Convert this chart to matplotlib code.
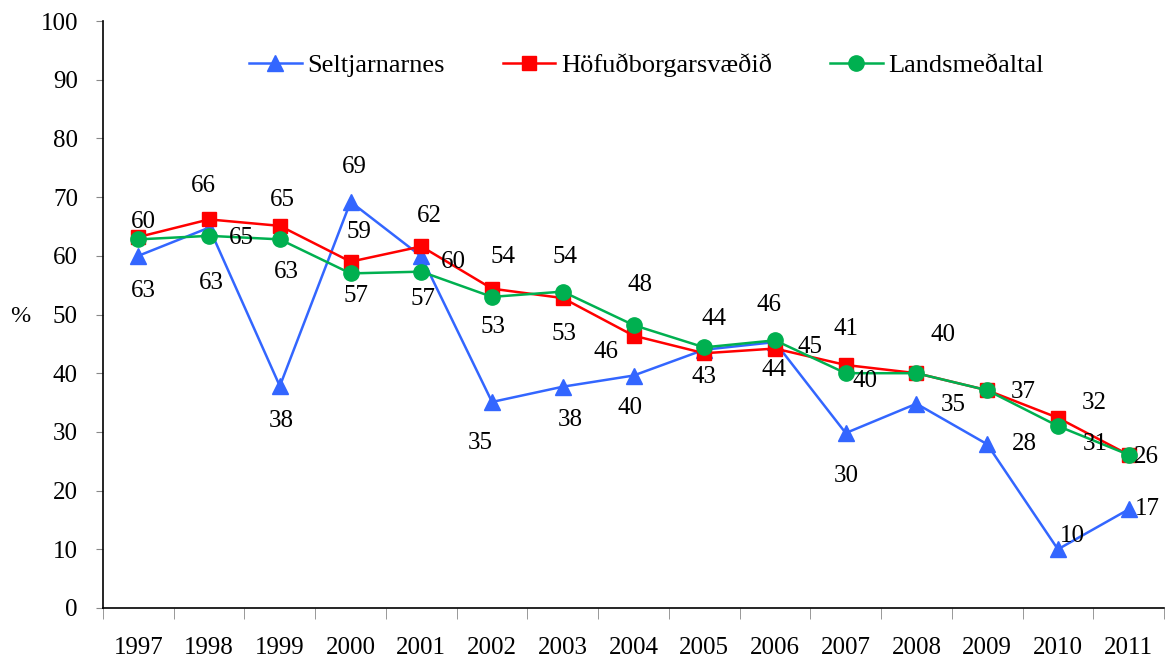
import matplotlib
matplotlib.use("Agg")
import matplotlib.pyplot as plt
import numpy as np

plt.rcParams['font.family'] = ['Liberation Serif', 'DejaVu Serif']

years = ['1997', '1998', '1999', '2000', '2001', '2002', '2003', '2004',
         '2005', '2006', '2007', '2008', '2009', '2010', '2011']

seltjarnarnes = [60.0, 64.8, 37.8, 69.2, 59.9, 35.1, 37.7, 39.6,
                 44.0, 45.3, 29.8, 34.8, 27.9, 10.0, 16.8]
hofudborg = [63.2, 66.2, 65.1, 59.0, 61.6, 54.4, 52.8, 46.4,
             43.4, 44.2, 41.4, 40.0, 37.1, 32.4, 26.1]
landsmedaltal = [62.8, 63.4, 62.8, 57.0, 57.3, 53.0, 53.9, 48.2,
                 44.4, 45.6, 40.0, 40.0, 37.1, 31.0, 26.1]

names = ['Seltjarnarnes', 'Höfuðborgarsvæðið', 'Landsmeðaltal']

# label offsets in pixels (dx, dy up); None = no label shown
off_blue = [(5, 34), (32, -10), (1, -35), (4, 35), (32, -6), (-12, -41),
            (7, -33), (-3, -32), None, (35, -5), (1, -43), (37, -1),
            (37, 0), (14, 13), (19, 0)]
off_red = [None, (-6, 33), (3, 26), (8, 30), (8, 30), (11, 32), (1, -36),
           (-28, -16), (0, -24), (-1, -21), (0, 36), (27, 38), None,
           (36, 15), None]
off_green = [(5, -52), (2, -47), (7, -33), (5, -23), (2, -27), (1, -30),
             (2, 35), (6, 40), (10, 28), (-6, 35), (19, -8), None,
             (36, -2), (37, -18), (18, -2)]

fig = plt.figure(figsize=(11.67, 6.62), dpi=100)
ax = fig.add_axes([103 / 1167, 1 - 608 / 662, 1061 / 1167, 587 / 662])

x = np.arange(len(years))
series = [
    (seltjarnarnes, '#3366FF', '^', 11, off_blue),
    (hofudborg, '#FF0000', 's', 10, off_red),
    (landsmedaltal, '#00B050', 'o', 11, off_green),
]

for (vals, col, mk, ms, offs), name in zip(series, names):
    ax.plot(x, vals, color=col, marker=mk, markersize=ms, lw=1.8,
            label=name)
    for i, v in enumerate(vals):
        if offs[i] is None:
            continue
        ax.annotate('%.0f' % v, (x[i], v), xytext=offs[i],
                    textcoords='offset pixels', ha='center', va='center',
                    fontsize=18, color='black', zorder=5)

ax.set_xlim(-0.5, len(years) - 0.5)
ax.set_ylim(0, 100)
ax.set_yticks(np.arange(0, 101, 10))
ax.set_xticks(x)
ax.set_xticklabels(years)
ax.set_xticks(np.arange(-0.5, len(years)), minor=True)
ax.tick_params(axis='x', which='major', length=0, pad=21, labelsize=18)
ax.tick_params(axis='x', which='minor', length=8, color='#888888')
ax.tick_params(axis='y', length=5, color='#888888', pad=13, labelsize=18)

for s in ['top', 'right']:
    ax.spines[s].set_visible(False)
for s in ['left', 'bottom']:
    ax.spines[s].set_linewidth(1.2)

fig.text(20 / 1167, 1 - 316 / 662, '%', fontsize=17.5, ha='center', va='center')

ax.legend(loc='center', bbox_to_anchor=(0.512, 0.925), ncol=3, frameon=False,
          fontsize=19, handlelength=2.0, handletextpad=0.2, columnspacing=2.2)

fig.savefig('out.png', dpi=100)
